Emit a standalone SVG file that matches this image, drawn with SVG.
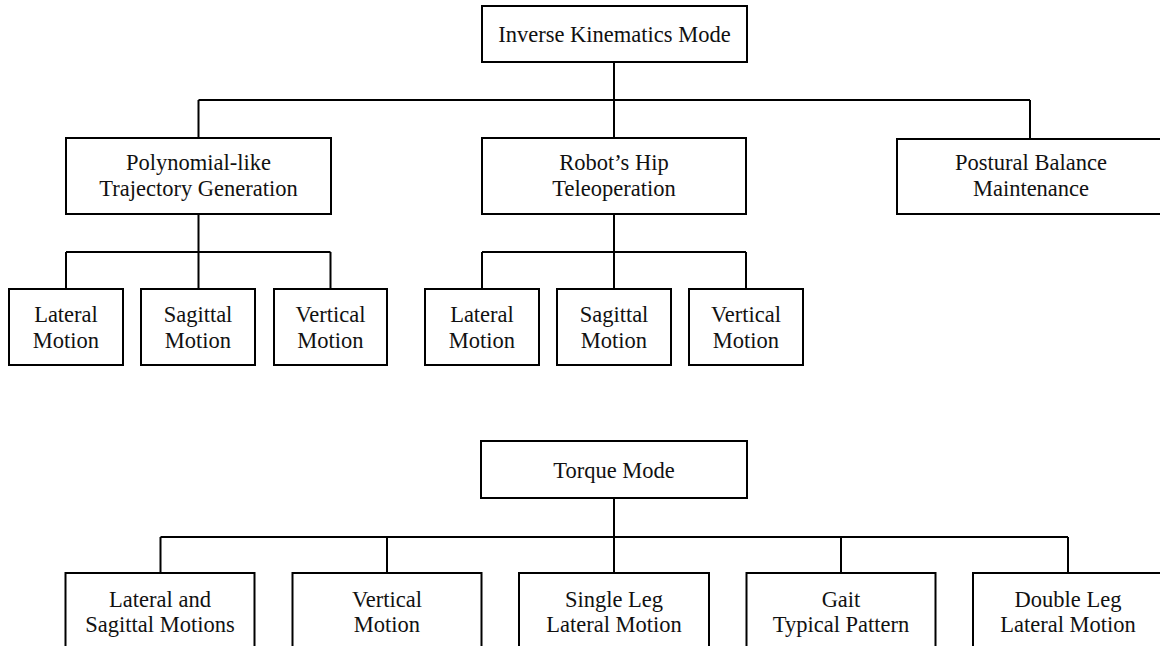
<svg xmlns="http://www.w3.org/2000/svg" width="1160" height="646" viewBox="0 0 1160 646">
  <style>
    .box { fill: #ffffff; stroke: #000000; stroke-width: 2; }
    .link { fill: none; stroke: #000000; stroke-width: 2; }
    text { font-family: 'Liberation Serif', 'Times New Roman', Times, 'DejaVu Serif', 'Noto Serif', serif; font-size: 22.5px; fill: #111111; text-anchor: middle; }
  </style>
  <rect width="1160" height="646" fill="#ffffff"/>

  <!-- tree connectors -->
  <g id="connectors">
    <!-- inverse kinematics tree -->
    <path class="link" d="M614 62 V138 M198.5 100 H1030 M198.5 100 V138 M1030 100 V139"/>
    <path class="link" d="M198.5 214 V289 M66 252 H330.5 M66 252 V289 M330.5 252 V289"/>
    <path class="link" d="M614 214 V289 M482 252 H746 M482 252 V289 M746 252 V289"/>
    <!-- torque tree -->
    <path class="link" d="M614 498 V573 M160.5 537 H1068 M160.5 537 V573 M387 537 V573 M841 537 V573 M1068 537 V573"/>
  </g>

  <!-- inverse kinematics mode -->
  <g id="ik-root">
    <rect class="box" x="482" y="6" width="265" height="56"/>
    <text x="614.5" y="42">Inverse Kinematics Mode</text>
  </g>
  <g id="ik-poly">
    <rect class="box" x="66" y="138" width="265" height="76"/>
    <text x="198.5" y="170">Polynomial-like</text>
    <text x="198.5" y="196">Trajectory Generation</text>
  </g>
  <g id="ik-hip">
    <rect class="box" x="482" y="138" width="264" height="76"/>
    <text x="614" y="170">Robot’s Hip</text>
    <text x="614" y="196">Teleoperation</text>
  </g>
  <g id="ik-balance">
    <rect class="box" x="897" y="139" width="266" height="75"/>
    <text x="1031" y="170">Postural Balance</text>
    <text x="1031" y="196">Maintenance</text>
  </g>

  <g id="poly-lateral">
    <rect class="box" x="9" y="289" width="114" height="76"/>
    <text x="66" y="322">Lateral</text>
    <text x="66" y="348">Motion</text>
  </g>
  <g id="poly-sagittal">
    <rect class="box" x="141" y="289" width="114" height="76"/>
    <text x="198" y="322">Sagittal</text>
    <text x="198" y="348">Motion</text>
  </g>
  <g id="poly-vertical">
    <rect class="box" x="274" y="289" width="113" height="76"/>
    <text x="330.5" y="322">Vertical</text>
    <text x="330.5" y="348">Motion</text>
  </g>

  <g id="hip-lateral">
    <rect class="box" x="425" y="289" width="114" height="76"/>
    <text x="482" y="322">Lateral</text>
    <text x="482" y="348">Motion</text>
  </g>
  <g id="hip-sagittal">
    <rect class="box" x="557" y="289" width="114" height="76"/>
    <text x="614" y="322">Sagittal</text>
    <text x="614" y="348">Motion</text>
  </g>
  <g id="hip-vertical">
    <rect class="box" x="689" y="289" width="114" height="76"/>
    <text x="746" y="322">Vertical</text>
    <text x="746" y="348">Motion</text>
  </g>

  <!-- torque mode -->
  <g id="torque-root">
    <rect class="box" x="481" y="441" width="266" height="57"/>
    <text x="614" y="478">Torque Mode</text>
  </g>
  <g id="torque-lat-sag">
    <rect class="box" x="65.5" y="573" width="189" height="80"/>
    <text x="160" y="607">Lateral and</text>
    <text x="160" y="632">Sagittal Motions</text>
  </g>
  <g id="torque-vertical">
    <rect class="box" x="292.5" y="573" width="189" height="80"/>
    <text x="387" y="607">Vertical</text>
    <text x="387" y="632">Motion</text>
  </g>
  <g id="torque-single-leg">
    <rect class="box" x="519" y="573" width="190" height="80"/>
    <text x="614" y="607">Single Leg</text>
    <text x="614" y="632">Lateral Motion</text>
  </g>
  <g id="torque-gait">
    <rect class="box" x="746.5" y="573" width="189" height="80"/>
    <text x="841" y="607">Gait</text>
    <text x="841" y="632">Typical Pattern</text>
  </g>
  <g id="torque-double-leg">
    <rect class="box" x="973" y="573" width="190" height="80"/>
    <text x="1068" y="607">Double Leg</text>
    <text x="1068" y="632">Lateral Motion</text>
  </g>
</svg>
